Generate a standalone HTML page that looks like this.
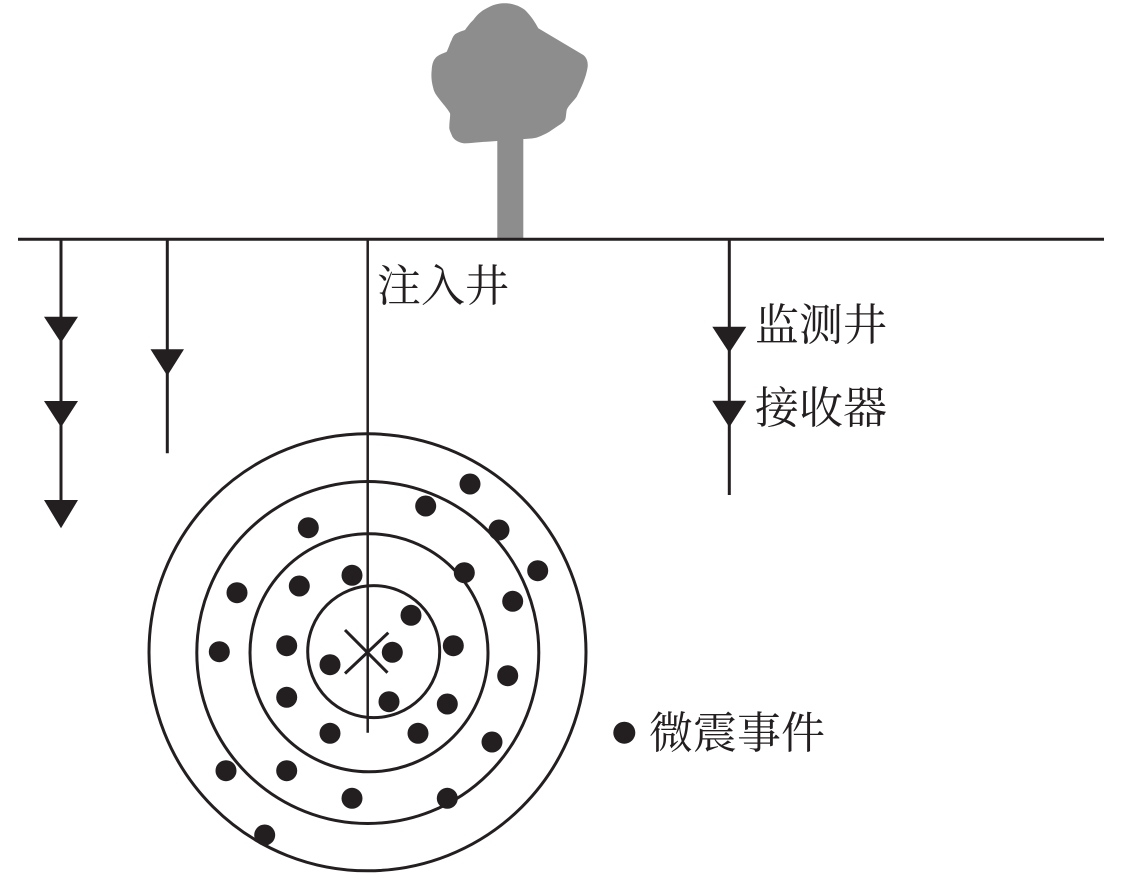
<!DOCTYPE html>
<html><head><meta charset="utf-8"><style>
html,body{margin:0;padding:0;background:#fff;}
svg{display:block;}
text{font-family:"Liberation Serif","Noto Serif CJK SC","Noto Sans CJK SC",serif;font-size:44px;fill:#231f20;}
</style></head><body>
<svg width="1122" height="874" viewBox="0 0 1122 874" xmlns="http://www.w3.org/2000/svg">
<!-- tree -->
<rect x="497.3" y="125" width="26" height="114" fill="#8e8d8e"/>
<path fill="#8e8d8e" d="M486.7,8.3 C494,4 500,3 506.7,3.3 C515,4 521,7 525,10 C531,16 535,22 538.3,28.3 L583.3,55 C587,58 588,62 587.7,66.7 C586,78 581,88 576.7,96.7 C572,103 568,106 566.7,110 C566,114 566,118 565,120 C562,124 559,125 556.7,126.7 C552,130 549,132 546.7,133.3 C541,136 537,138 533.3,138.3 C528,139 524,139 520,139.3 L486.7,141.7 C478,142 470,143.5 463.3,143.3 C457,142 453,139 451.7,135 C450,131 449,129 449.3,126.7 C449.5,120 450.5,116 450,113.3 C447,108 443,104 440,100 C436,95 434,92 433.3,88.3 C431.5,82 431,76 431.7,70 C432,63 434,59 436.7,56.7 C440,54 444,53 446.7,51.7 C449,47 450,43 451.7,40 C453,36 455,34 456.7,33.3 C459,32 462,31 465,30 C468,26 470,23 473.3,20 C477,15 481,11 486.7,8.3 Z"/>
<g stroke="#231f20" fill="none" stroke-width="3">
<!-- ground -->
<line x1="18" y1="239.3" x2="1104" y2="239.3"/>
<!-- left wells -->
<line x1="61" y1="240" x2="61" y2="505"/>
<line x1="167.3" y1="240" x2="167.3" y2="453.3"/>
<!-- injection well -->
<line x1="367.7" y1="240" x2="367.7" y2="732.7" stroke-width="2.5"/>
<!-- monitoring well -->
<line x1="729.3" y1="240" x2="729.3" y2="495"/>
<!-- circles -->
<circle cx="367.5" cy="652.3" r="218.5"/>
<circle cx="367.8" cy="652.5" r="171"/>
<circle cx="369" cy="652.8" r="119"/>
<circle cx="373.7" cy="651.6" r="66"/>
<!-- X -->
<line x1="345" y1="630" x2="387.5" y2="672.7"/>
<line x1="345" y1="673.5" x2="388.3" y2="632.7"/>
</g>
<g fill="#231f20">
<!-- arrows -->
<polygon points="44,316.7 78,316.7 61,342.7"/>
<polygon points="44,401 78,401 61,427.3"/>
<polygon points="44,500 78,500 61,528.3"/>
<polygon points="150.5,349.3 184,349.3 167.3,375.7"/>
<polygon points="712.3,326.7 746.3,326.7 729.3,352.7"/>
<polygon points="712.3,400.7 746.3,400.7 729.3,427.3"/>
<!-- dots -->
<circle cx="470" cy="484" r="10.5"/>
<circle cx="425.7" cy="506" r="10.5"/>
<circle cx="308.3" cy="527.7" r="10.5"/>
<circle cx="499" cy="530" r="10.5"/>
<circle cx="464.3" cy="572.7" r="10.5"/>
<circle cx="537.7" cy="570.7" r="10.5"/>
<circle cx="352" cy="575.3" r="10.5"/>
<circle cx="299.3" cy="586" r="10.5"/>
<circle cx="237" cy="592.7" r="10.5"/>
<circle cx="512.7" cy="601.3" r="10.5"/>
<circle cx="411" cy="615.3" r="10.5"/>
<circle cx="219.3" cy="651.7" r="10.5"/>
<circle cx="286.7" cy="645.7" r="10.5"/>
<circle cx="453.3" cy="645.7" r="10.5"/>
<circle cx="392.3" cy="652.3" r="10.5"/>
<circle cx="330" cy="664.7" r="10.5"/>
<circle cx="507.7" cy="675.7" r="10.5"/>
<circle cx="286.7" cy="697.3" r="10.5"/>
<circle cx="389" cy="701.7" r="10.5"/>
<circle cx="447.3" cy="704" r="10.5"/>
<circle cx="330" cy="733.3" r="10.5"/>
<circle cx="418" cy="733.3" r="10.5"/>
<circle cx="492" cy="742" r="10.5"/>
<circle cx="226" cy="770.7" r="10.5"/>
<circle cx="286.7" cy="770.7" r="10.5"/>
<circle cx="352" cy="798.3" r="10.5"/>
<circle cx="447.3" cy="798.3" r="10.5"/>
<circle cx="264.7" cy="835" r="10.5"/>
<circle cx="624.3" cy="732.7" r="11"/>
</g>
<!-- labels -->
<text x="377" y="301">注入井</text>
<text x="755" y="340">监测井</text>
<text x="755" y="423">接收器</text>
<text x="649" y="748">微震事件</text>
</svg>
</body></html>
